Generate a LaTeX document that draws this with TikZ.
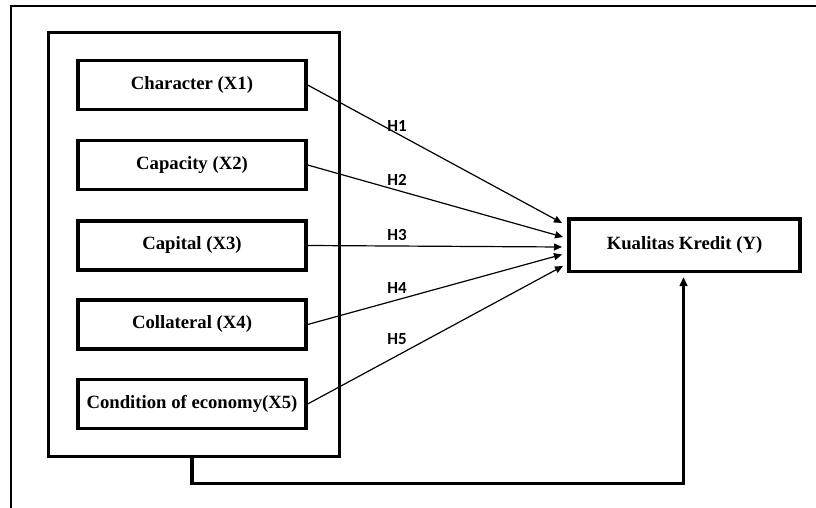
\documentclass[tikz,border=0pt]{standalone}
\usepackage{fontspec}
\setmainfont{Liberation Serif}
\newfontfamily\hfont{Carlito}
\usetikzlibrary{arrows.meta,calc}
\begin{document}
\begin{tikzpicture}[x=1pt,y=-1pt,
  varbox/.style={draw,line width=3.3pt,minimum width=228pt,minimum height=49pt,inner sep=0pt,font=\fontsize{18.7}{20}\selectfont\bfseries},
  ybox/.style={draw,line width=3.3pt,minimum width=231pt,minimum height=52.5pt,inner sep=0pt,font=\fontsize{18.7}{20}\selectfont\bfseries},
  grpbox/.style={draw,line width=3.3pt,minimum width=291pt,minimum height=424pt,inner sep=0pt},
  harrow/.style={line width=1.2pt,-{Triangle[length=8pt,width=7pt]}},
  hlabel/.style={font=\hfont\fontsize{17}{18}\selectfont\bfseries,inner sep=0pt},
  fback/.style={line width=3.3pt,-{Triangle[length=9pt,width=7.5pt]}},
  frame/.style={line width=2pt}]
\useasboundingbox (0,0) rectangle (816,508);
% outer frame (top and left only)
\coordinate (fl) at (11,508);
\coordinate (ftl) at (11,6);
\coordinate (fr) at (816,6);
\draw[frame] (fl) -- (ftl) -- (fr);
% group box
\node[grpbox] (grp) at (194,244.5) {};
% variable boxes
\node[varbox] (x1) at (192,85) {Character (X1)};
\node[varbox] (x2) at (192,165) {Capacity (X2)};
\node[varbox] (x3) at (192,245.5) {Capital (X3)};
\node[varbox] (x4) at (192,324.5) {Collateral (X4)};
\node[varbox] (x5) at (192,404) {Condition of economy(X5)};
% dependent
\node[ybox] (y) at (684.5,245.3) {Kualitas Kredit (Y)};
% arrow tips
\coordinate (t1) at (562,223);
\coordinate (t2) at (563,237);
\coordinate (t3) at (562,247);
\coordinate (t4) at (562,254.5);
\coordinate (t5) at (563,266);
\draw[harrow] (x1.east) -- (t1);
\draw[harrow] (x2.east) -- (t2);
\draw[harrow] (x3.east) -- (t3);
\draw[harrow] (x4.east) -- (t4);
\draw[harrow] (x5.east) -- (t5);
% labels
\node[hlabel] (h1) at (397,126) {H1};
\node[hlabel] (h2) at (397,180) {H2};
\node[hlabel] (h3) at (397,235) {H3};
\node[hlabel] (h4) at (397,288) {H4};
\node[hlabel] (h5) at (397,339) {H5};
% feedback connector
\coordinate (fb1) at (192,483.5);
\coordinate (fb2) at (683.5,483.5);
\coordinate (fbt) at (683.5,277);
\draw[fback] (grp.south -| fb1) -- (fb1) -- (fb2) -- (fbt);
\end{tikzpicture}
\end{document}
